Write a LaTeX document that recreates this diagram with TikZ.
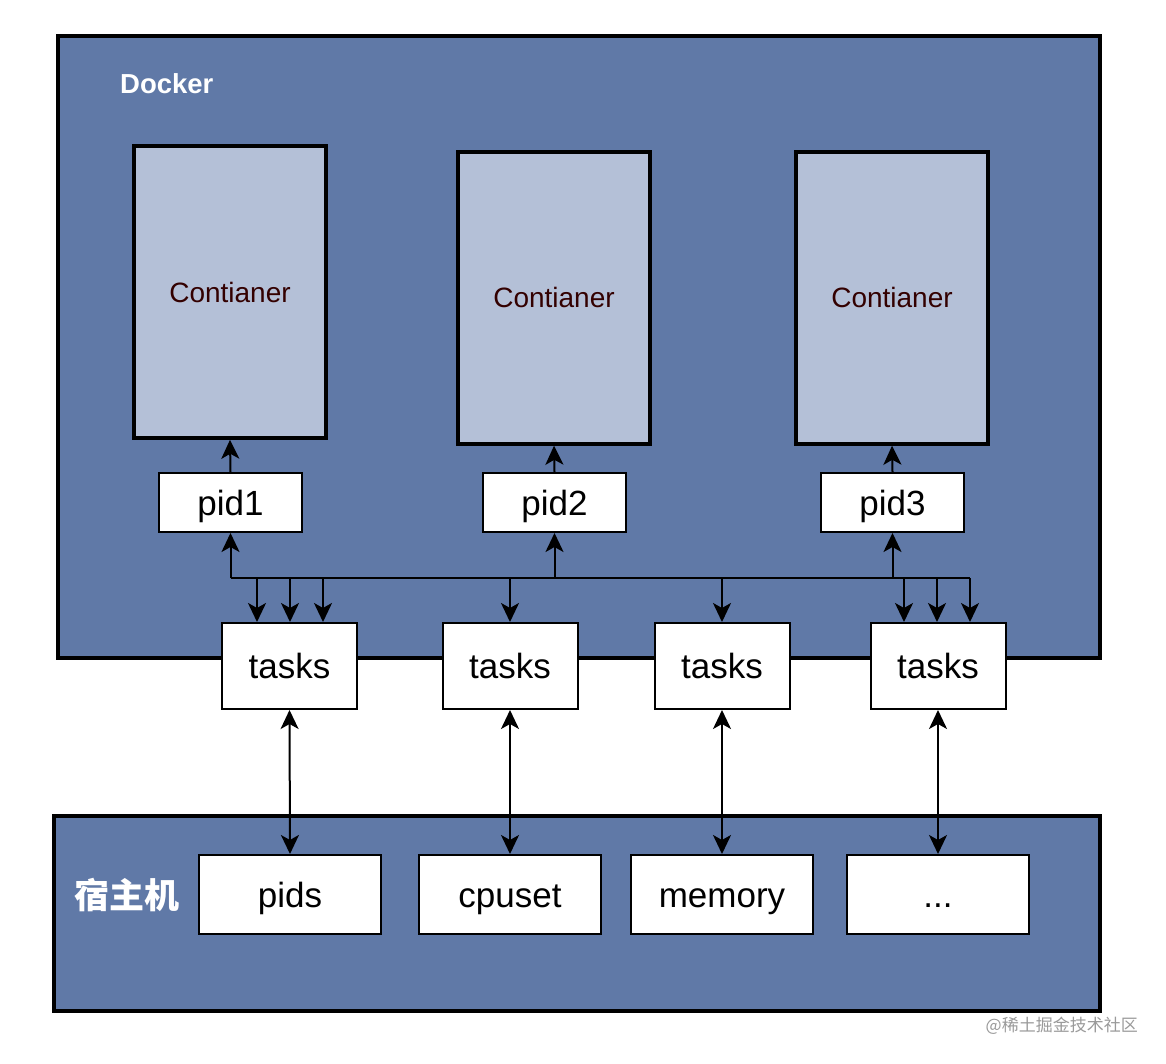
\documentclass[tikz,border=0pt]{standalone}
\usepackage{fontspec}
\setmainfont{Liberation Sans}
\newfontfamily\cjk{Noto Sans CJK SC}
\usetikzlibrary{arrows.meta}
\definecolor{outerblue}{HTML}{6079A7}
\definecolor{contfill}{HTML}{B4C0D7}
\definecolor{conttext}{HTML}{330000}
\definecolor{wmgrey}{HTML}{9A9A9A}
\tikzset{
  outerbox/.style={draw=black, line width=3.5pt, fill=outerblue, inner sep=0pt},
  capc/.style={text height=25pt, text depth=0pt},
  contbox/.style={draw=black, line width=3.5pt, fill=contfill, inner sep=0pt,
    minimum width=192pt, minimum height=292pt, text=conttext, font=\fontsize{28}{33}\selectfont,
    text height=20pt, text depth=0pt},
  pidbox/.style={draw=black, line width=2pt, fill=white, inner sep=0pt,
    minimum width=143pt, minimum height=59pt, font=\fontsize{35}{40}\selectfont, capc},
  taskbox/.style={draw=black, line width=2pt, fill=white, inner sep=0pt,
    minimum width=135pt, minimum height=86pt, font=\fontsize{35}{40}\selectfont, capc},
  hostitem/.style={draw=black, line width=2pt, fill=white, inner sep=0pt,
    minimum width=182pt, minimum height=79pt, font=\fontsize{35}{40}\selectfont, capc},
  conn/.style={line width=2pt, draw=black},
  tip/.tip={Stealth[length=19pt,width=18pt,inset=5pt]},
  arr/.style={conn, -tip},
  arrboth/.style={conn, tip-tip},
  biglabel/.style={text=white, inner sep=0pt}
}
\begin{document}
\begin{tikzpicture}[x=1pt,y=-1pt]
\useasboundingbox[fill=white] (0,0) rectangle (1166,1064);
% outer boxes
\node[outerbox, minimum width=1042pt, minimum height=622pt] (docker) at (579,347) {};
\node[outerbox, minimum width=1046pt, minimum height=195pt] (host) at (577,913.5) {};
\node[biglabel, font=\fontsize{27.5}{32}\selectfont\bfseries, anchor=west] (dockerlbl) at (120,84) {Docker};
\node[biglabel, font=\fontsize{35}{40}\selectfont\cjk\bfseries, anchor=west] (hostlbl) at (74,895) {宿主机};
% containers
\node[contbox] (c1) at (230,292) {Contianer};
\node[contbox] (c2) at (554,298) {Contianer};
\node[contbox] (c3) at (892,298) {Contianer};
% pids
\node[pidbox] (p1) at (230.5,502.5) {pid1};
\node[pidbox] (p2) at (554.5,502.5) {pid2};
\node[pidbox] (p3) at (892.5,502.5) {pid3};
% tasks
\node[taskbox] (t1) at (289.5,666) {tasks};
\node[taskbox] (t2) at (510,666) {tasks};
\node[taskbox] (t3) at (722,666) {tasks};
\node[taskbox] (t4) at (938,666) {tasks};
% host items
\node[hostitem] (h1) at (290,894.5) {pids};
\node[hostitem] (h2) at (510,894.5) {cpuset};
\node[hostitem] (h3) at (722,894.5) {memory};
\node[hostitem] (h4) at (938,894.5) {...};
% pid -> container
\draw[arr] (p1.north) -- (c1.south);
\draw[arr] (p2.north) -- (c2.south);
\draw[arr] (p3.north) -- (c3.south);
% bus
\coordinate (busL) at (230.5,578);
\coordinate (busR) at (970,578);
\coordinate (b2) at (554.5,578);
\coordinate (b3) at (892.5,578);
\draw[conn] (busL) -- (busR);
\draw[arr] (busL) -- (p1.south);
\draw[arr] (b2) -- (p2.south);
\draw[arr] (b3) -- (p3.south);
% drops to tasks
\foreach \x/\t in {257/t1, 290/t1, 323/t1, 510/t2, 722/t3, 904/t4, 937/t4, 970/t4}{
  \coordinate (d\x) at (\x,578);
  \draw[arr] (d\x) -- (d\x |- \t.north);
}
% tasks <-> host items
\draw[arrboth] (t1.south) -- (h1.north);
\draw[arrboth] (t2.south) -- (h2.north);
\draw[arrboth] (t3.south) -- (h3.north);
\draw[arrboth] (t4.south) -- (h4.north);
% footer
\node[text=wmgrey, font=\fontsize{17}{20}\selectfont\cjk, anchor=east, inner sep=0pt] (wm) at (1138,1026) {@稀土掘金技术社区};
\end{tikzpicture}
\end{document}
